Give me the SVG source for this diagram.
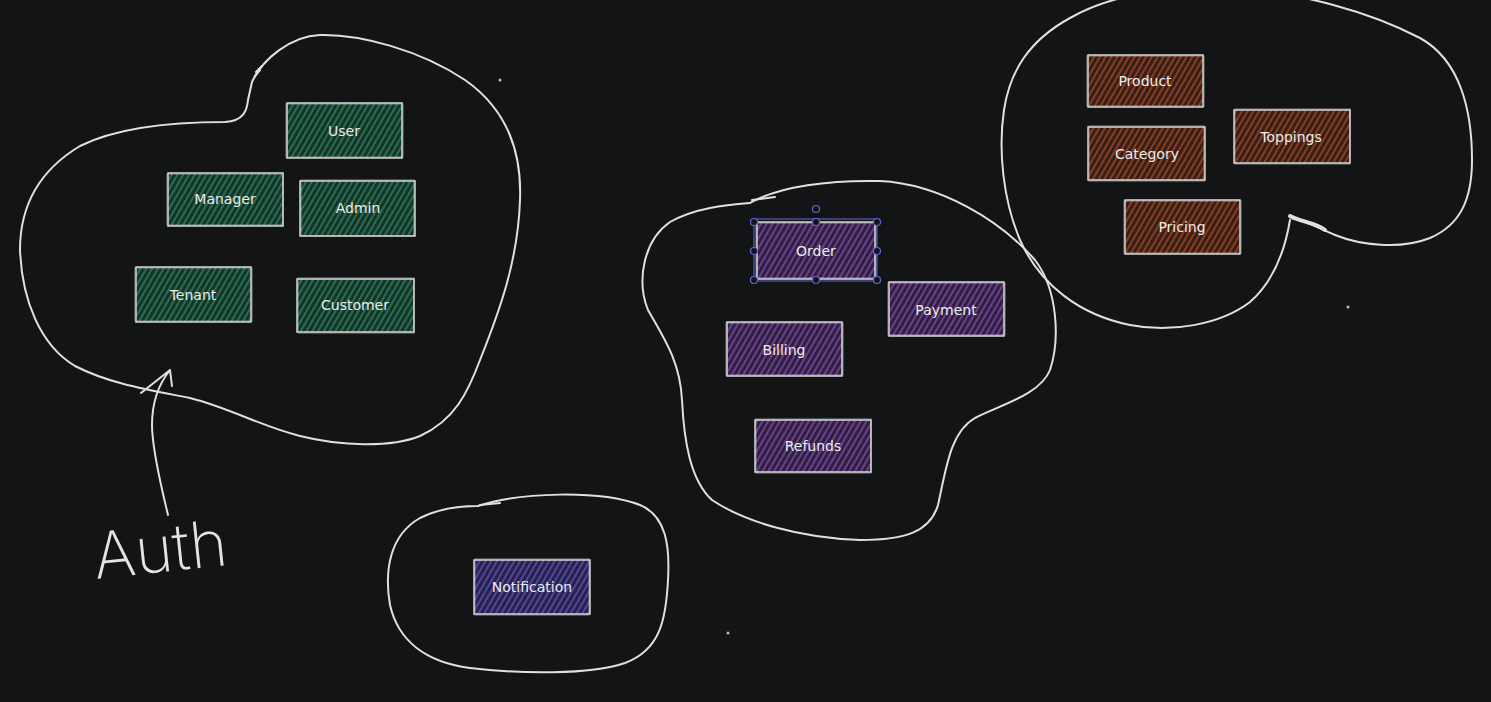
<svg xmlns="http://www.w3.org/2000/svg" width="1491" height="702" viewBox="0 0 1491 702">
<defs>
<pattern id="hG" width="5" height="5" patternUnits="userSpaceOnUse" patternTransform="rotate(30)"><rect width="5" height="5" fill="#16342a"/><line x1="1" y1="0" x2="1" y2="5" stroke="#2f8f62" stroke-width="1.3"/></pattern>
<pattern id="hP" width="5" height="5" patternUnits="userSpaceOnUse" patternTransform="rotate(30)"><rect width="5" height="5" fill="#2f2040"/><line x1="1" y1="0" x2="1" y2="5" stroke="#8a50b8" stroke-width="1.3"/></pattern>
<pattern id="hN" width="5" height="5" patternUnits="userSpaceOnUse" patternTransform="rotate(30)"><rect width="5" height="5" fill="#26224a"/><line x1="1" y1="0" x2="1" y2="5" stroke="#6a58c8" stroke-width="1.3"/></pattern>
<pattern id="hB" width="5" height="5" patternUnits="userSpaceOnUse" patternTransform="rotate(30)"><rect width="5" height="5" fill="#3a1e15"/><line x1="1" y1="0" x2="1" y2="5" stroke="#a8502c" stroke-width="1.3"/></pattern>
</defs>
<style>
.blob{fill:none;stroke:#e0e0e0;stroke-width:2;stroke-linecap:round;stroke-linejoin:round}
.bx{stroke:#d8d8d8;stroke-width:1.5}
.bx2{fill:none;stroke:#cfcfcf;stroke-width:1;opacity:.6}
.lbl{font-family:"DejaVu Sans",sans-serif;font-size:14px;fill:#ececec;text-anchor:middle;dominant-baseline:central}
.sel{fill:none;stroke:#6965db;stroke-width:1}
.hd{fill:#121415;stroke:#6965db;stroke-width:1.2}
.dot{fill:#bfbfbf}
</style>
<rect width="1491" height="702" fill="#121415"/>

<g id="connectors">
<path class="blob" d="M252,82 C262,60 290,36 320,35 C360,34 420,50 465,80 C505,108 522,150 520,200 C518,260 500,310 480,360 C468,392 455,420 420,436 C390,448 340,446 300,436 C260,426 230,408 190,398 C150,390 110,384 75,366 C40,345 22,300 20,250 C20,205 40,170 80,146 C120,126 180,122 225,122 C244,121 247,110 248,100 L252,82"/>
<path class="blob" d="M256,72 L262,66 M255,76 L260,70"/>
<path class="blob" d="M750,203 C780,186 830,180 880,181 C940,184 1000,220 1035,260 C1058,290 1060,340 1050,370 C1040,395 1000,405 975,418 C950,432 946,470 938,505 C930,532 905,540 860,540 C800,538 745,522 712,500 C690,480 684,440 682,400 C680,360 662,335 648,310 C636,280 644,240 670,222 C695,208 725,205 750,203"/>
<path class="blob" d="M752,200 L775,197"/>
<path class="blob" d="M478,506 C520,492 600,490 640,505 C666,516 670,545 668,580 C666,620 660,650 625,663 C590,675 520,674 470,668 C425,662 398,640 390,605 C384,570 390,535 420,518 C440,508 460,506 478,506"/>
<path class="blob" d="M480,505 L500,503"/>
<path class="blob" d="M1290,220 C1285,250 1275,280 1250,302 C1220,325 1170,333 1130,325 C1080,315 1040,285 1020,240 C1003,200 998,150 1004,110 C1010,70 1030,40 1070,18 C1110,-5 1170,-15 1230,-12 C1300,-8 1370,12 1420,38 C1460,60 1472,110 1472,160 C1472,200 1460,225 1430,238 C1400,250 1360,245 1335,235 C1318,228 1305,220 1292,218"/>
<path d="M1290,216 C1300,222 1315,222 1325,230" fill="none" stroke="#e0e0e0" stroke-width="4" stroke-linecap="round"/>
<path class="blob" d="M168,515 C162,490 152,450 152,425 C152,405 158,385 170,370 M170,370 L141,393 M170,370 L172,386"/>
</g>

<text x="160" y="572" font-family="Inter, 'Open Sans', sans-serif" font-weight="200" font-size="64" fill="#e4e4e4" text-anchor="middle" transform="rotate(-6 160 548)">Auth</text>

<g id="user"><rect x="287" y="103" width="115" height="55" fill="url(#hG)" class="bx"/><rect x="286" y="104" width="117" height="53" class="bx2"/><text class="lbl" x="344" y="131">User</text></g>
<g id="manager"><rect x="168" y="173" width="115" height="53" fill="url(#hG)" class="bx"/><rect x="167" y="174" width="116" height="51" class="bx2"/><text class="lbl" x="225" y="199">Manager</text></g>
<g id="admin"><rect x="300" y="181" width="115" height="55" fill="url(#hG)" class="bx"/><rect x="301" y="180" width="113" height="56" class="bx2"/><text class="lbl" x="358" y="208">Admin</text></g>
<g id="tenant"><rect x="136" y="267" width="115" height="55" fill="url(#hG)" class="bx"/><rect x="135" y="268" width="117" height="53" class="bx2"/><text class="lbl" x="193" y="295">Tenant</text></g>
<g id="customer"><rect x="297" y="279" width="117" height="53" fill="url(#hG)" class="bx"/><rect x="298" y="278" width="116" height="55" class="bx2"/><text class="lbl" x="355" y="305">Customer</text></g>

<g id="order"><rect x="757" y="222" width="118" height="57" fill="url(#hP)" class="bx"/><rect x="756" y="223" width="120" height="55" class="bx2"/><text class="lbl" x="816" y="251">Order</text>
<rect class="sel" x="754" y="219" width="123" height="62"/>
<circle class="hd" cx="754" cy="222" r="3.5"/><circle class="hd" cx="816" cy="222" r="3.5"/><circle class="hd" cx="877" cy="222" r="3.5"/>
<circle class="hd" cx="754" cy="251" r="3.5"/><circle class="hd" cx="877" cy="251" r="3.5"/>
<circle class="hd" cx="754" cy="280" r="3.5"/><circle class="hd" cx="816" cy="280" r="3.5"/><circle class="hd" cx="877" cy="280" r="3.5"/>
<circle class="hd" cx="816" cy="209" r="3.5"/></g>
<g id="payment"><rect x="889" y="282" width="115" height="54" fill="url(#hP)" class="bx"/><rect x="888" y="283" width="117" height="52" class="bx2"/><text class="lbl" x="946" y="310">Payment</text></g>
<g id="billing"><rect x="727" y="322" width="115" height="54" fill="url(#hP)" class="bx"/><rect x="726" y="323" width="117" height="52" class="bx2"/><text class="lbl" x="784" y="350">Billing</text></g>
<g id="refunds"><rect x="755" y="420" width="116" height="52" fill="url(#hP)" class="bx"/><rect x="756" y="419" width="115" height="54" class="bx2"/><text class="lbl" x="813" y="446">Refunds</text></g>

<g id="notification"><rect x="474" y="560" width="116" height="54" fill="url(#hN)" class="bx"/><rect x="475" y="559" width="114" height="56" class="bx2"/><text class="lbl" x="532" y="587">Notification</text></g>

<g id="product"><rect x="1088" y="55" width="115" height="52" fill="url(#hB)" class="bx"/><rect x="1087" y="56" width="117" height="50" class="bx2"/><text class="lbl" x="1145" y="81">Product</text></g>
<g id="category"><rect x="1088" y="127" width="117" height="53" fill="url(#hB)" class="bx"/><rect x="1089" y="126" width="115" height="55" class="bx2"/><text class="lbl" x="1147" y="154">Category</text></g>
<g id="toppings"><rect x="1234" y="110" width="116" height="53" fill="url(#hB)" class="bx"/><rect x="1235" y="109" width="115" height="55" class="bx2"/><text class="lbl" x="1291" y="137">Toppings</text></g>
<g id="pricing"><rect x="1125" y="200" width="115" height="54" fill="url(#hB)" class="bx"/><rect x="1124" y="201" width="117" height="52" class="bx2"/><text class="lbl" x="1182" y="227">Pricing</text></g>

<circle class="dot" cx="500" cy="80" r="1.5"/>
<circle class="dot" cx="1348" cy="307" r="1.5"/>
<circle class="dot" cx="728" cy="633" r="1.5"/>
</svg>
